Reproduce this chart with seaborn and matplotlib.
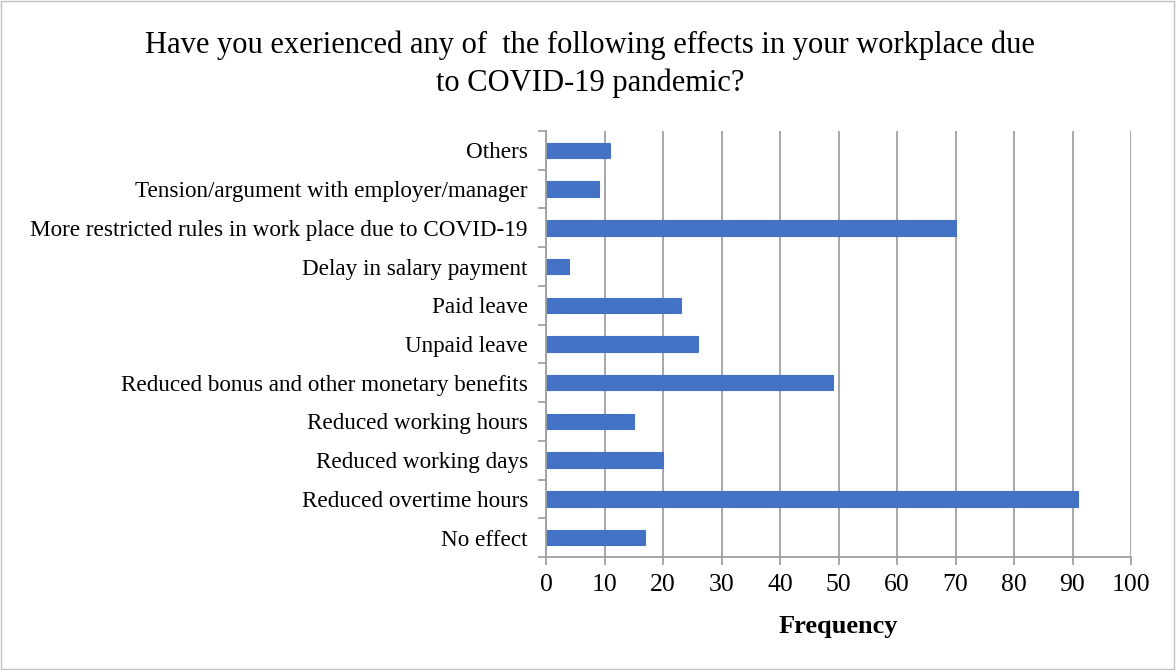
import matplotlib
matplotlib.use('Agg')
import matplotlib.pyplot as plt
import seaborn as sns
import pandas as pd
import numpy as np

# Datos (de arriba a abajo)
effects = [
    'Others',
    'Tension/argument with employer/manager',
    'More restricted rules in work place due to COVID-19',
    'Delay in salary payment',
    'Paid leave',
    'Unpaid leave',
    'Reduced bonus and other monetary benefits',
    'Reduced working hours',
    'Reduced working days',
    'Reduced overtime hours',
    'No effect',
]
frequency = [11, 9, 70, 4, 23, 26, 49, 15, 20, 91, 17]
x_ticks = list(range(0, 101, 10))

df = pd.DataFrame({'Effect': effects, 'Frequency': frequency})

sns.set_style('white')
plt.rcParams['font.family'] = ['Liberation Serif', 'DejaVu Serif']
plt.rcParams['text.color'] = 'black'
plt.rcParams['xtick.color'] = 'black'
plt.rcParams['ytick.color'] = 'black'
plt.rcParams['axes.labelcolor'] = 'black'

fig = plt.figure(figsize=(11.76, 6.7), dpi=100)
ax = fig.add_axes([546 / 1176, 1 - 557 / 670, (1131 - 546) / 1176, (557 - 131) / 670])

sns.barplot(data=df, x='Frequency', y='Effect', color='#4472C4', width=0.4,
            saturation=1, ax=ax, order=effects, edgecolor='#4472C4', linewidth=0.8)

ax.set_xlim(0, 100)
ax.set_ylim(len(effects) - 0.5, -0.5)
ax.set_xticks(x_ticks)
ax.set_xticklabels([str(t) for t in x_ticks], fontsize=18.5)
ax.grid(axis='x', color='#a0a0a0', linewidth=1.3)
ax.set_axisbelow(True)

# ticks de categoría en los límites entre barras
ax.set_yticks(np.arange(len(effects)))
ax.set_yticklabels(effects, fontsize=16.7)
ax.set_yticks(np.arange(-0.5, len(effects)), minor=True)
ax.tick_params(axis='y', which='major', left=True, length=0, pad=13)
ax.tick_params(axis='y', which='minor', left=True, length=6, color='#a0a0a0', width=1.3, direction='out')
ax.tick_params(axis='x', which='major', bottom=True, length=6, color='#a0a0a0', labelcolor='black',
               width=1.3, direction='out', pad=6)

for side in ['top', 'right']:
    ax.spines[side].set_visible(False)
for side in ['left', 'bottom']:
    ax.spines[side].set_color('#a0a0a0')
    ax.spines[side].set_linewidth(1.3)

ax.set_ylabel('')
ax.set_xlabel('Frequency', fontsize=19, fontweight='bold', labelpad=14)

fig.suptitle('Have you exerienced any of  the following effects in your workplace due\nto COVID-19 pandemic?',
             fontsize=22, x=0.502, y=0.955, va='top', linespacing=1.4)

# borde de la figura
fig.patches.append(plt.Rectangle((0.001, 0.001), 0.997, 0.997, transform=fig.transFigure,
                                 fill=False, edgecolor='#c0c0c0', linewidth=1))

fig.savefig('out.png', dpi=100)
